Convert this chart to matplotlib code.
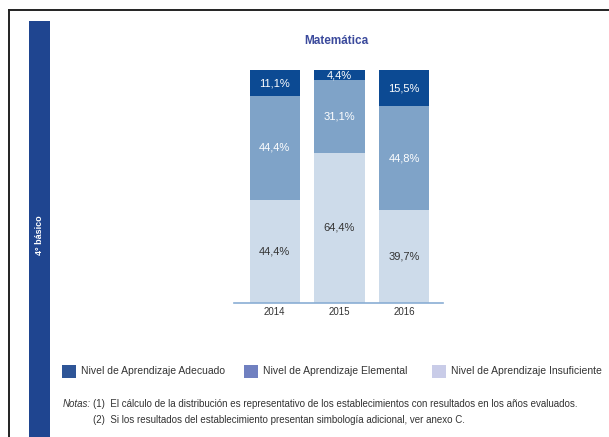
import numpy as np
import matplotlib
matplotlib.use("Agg")
import matplotlib.pyplot as plt
from matplotlib.patches import Rectangle
from matplotlib.lines import Line2D

plt.rcParams['font.family'] = ['Liberation Sans', 'DejaVu Sans']

years = ["2014", "2015", "2016"]
adecuado = [11.1, 4.4, 15.5]
elemental = [44.4, 31.1, 44.8]
insuficiente = [44.4, 64.4, 39.7]
level_names = ["Nivel de Aprendizaje Adecuado", "Nivel de Aprendizaje Elemental",
               "Nivel de Aprendizaje Insuficiente"]
notes = ["(1)  El cálculo de la distribución es representativo de los establecimientos con resultados en los años evaluados.",
         "(2)  Si los resultados del establecimiento presentan simbología adicional, ver anexo C."]

DARK = "#0c4a93"
MID = "#7fa3c8"
LIGHT = "#cddbea"
W, H = 609, 437


def fx(px):
    return px / W


def fy(py):
    return 1 - py / H


def fmt(v):
    return "{:.1f}%".format(v).replace(".", ",")


fig = plt.figure(figsize=(6.09, 4.37), dpi=100)

# page frame and side band
fig.add_artist(Line2D([fx(9), fx(9)], [fy(10), 0], color="#222222", lw=1.4))
fig.add_artist(Line2D([fx(9), 1], [fy(10), fy(10)], color="#222222", lw=1.4))
fig.add_artist(Rectangle((fx(29), 0), fx(21), fy(21), color="#1f4590", lw=0))
fig.text(fx(40), fy(235), "4° básico", rotation=90, color="white", fontsize=6.5,
         fontweight="bold", ha="center", va="center")

ax = fig.add_axes([fx(234), fy(303), fx(209), (303 - 70) / H])
x = np.arange(len(years))
bw = 0.775
series = [(insuficiente, LIGHT, "#333333"), (elemental, MID, "white"), (adecuado, DARK, "white")]
bottom = np.zeros(len(years))
for values, color, txt_color in series:
    ax.bar(x, values, bw, bottom=bottom, color=color, lw=0)
    for xi, b, v in zip(x, bottom, values):
        ax.text(xi, b + v / 2, fmt(v), ha="center", va="center", color=txt_color, fontsize=8)
    bottom = bottom + np.array(values)

ax.set_xlim(-0.63, 2.6)
ax.set_ylim(0, 100)
ax.set_yticks([])
ax.set_xticks(x)
ax.set_xticklabels(years, fontsize=7, color="#333333")
ax.tick_params(axis="x", length=0, pad=3)
for side in ["top", "right", "left"]:
    ax.spines[side].set_visible(False)
ax.spines["bottom"].set_color("#8aaed4")
ax.spines["bottom"].set_linewidth(1.2)

fig.text(fx(336), fy(41), "Matemática", ha="center", va="center", fontsize=8.5,
         fontweight="bold", color="#3b4a9c")

# legend, laid out by hand to match the page
swatch_x = [62, 244, 432]
for sx, name, c in zip(swatch_x, level_names, ["#2e5597", "#7080c0", "#c9cce8"]):
    fig.add_artist(Rectangle((fx(sx), fy(378)), fx(14), 13 / H, color=c, lw=0))
    fig.text(fx(sx + 19), fy(371.5), name, fontsize=7.5, color="#333333", va="center")

fig.text(fx(63), fy(404), "Notas:", fontsize=7, style="italic", color="#333333", va="center")
for i, line in enumerate(notes):
    fig.text(fx(93), fy(404 + 16 * i), line, fontsize=7, color="#333333", va="center")

fig.savefig("out.png", dpi=100)
